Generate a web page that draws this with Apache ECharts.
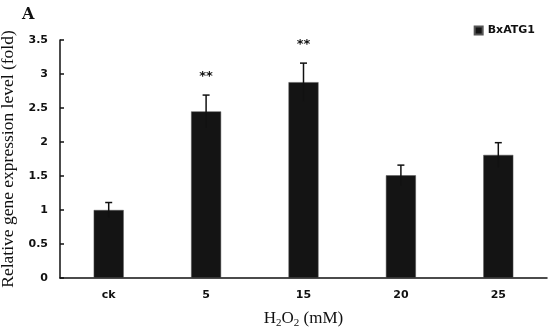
<!DOCTYPE html>
<html><head><meta charset="utf-8">
<script src="https://cdn.jsdelivr.net/npm/echarts@6/dist/echarts.min.js"></script>
<style>html,body{margin:0;padding:0;background:#fff}#c{width:550px;height:330px}</style>
</head><body><div id="c"></div>
<script>
const categories = ['ck', '5', '15', '20', '25'];
const values = [1.0, 2.45, 2.88, 1.51, 1.81];
const errors = [0.11, 0.24, 0.28, 0.15, 0.18];
const marks = ['', '**', '**', '', ''];
const yTicks = [0, 0.5, 1, 1.5, 2, 2.5, 3, 3.5];

const chart = echarts.init(document.getElementById('c'));
const errData = values.map((v, i) => [i, v - errors[i], v + errors[i], marks[i]]);
chart.setOption({
  animation: false,
  backgroundColor: '#fff',
  legend: {
    data: ['BxATG1'], right: 10, top: 20, itemWidth: 8, itemHeight: 8, itemGap: 6,
    icon: 'rect',
    textStyle: { fontFamily: 'DejaVu Sans', fontWeight: 'bold', fontSize: 11, color: '#111' }
  },
  title: [
    { text: 'A', left: 17, top: 2, textStyle: { fontFamily: 'DejaVu Serif', fontWeight: 'bold', fontSize: 16, color: '#111' } }
  ],
  grid: { left: 60, top: 40, width: 487, height: 238, outerBoundsMode: 'none', containLabel: false },
  xAxis: {
    type: 'category', data: categories,
    name: '{a|H}{s|2}{a|O}{s|2}{a| (mM)}', nameLocation: 'middle', nameGap: 31,
    nameTextStyle: { rich: {
      a: { fontFamily: 'Liberation Serif', fontSize: 17, color: '#111' },
      s: { fontFamily: 'Liberation Serif', fontSize: 11, color: '#111', padding: [9, 0, 0, 0] }
    } },
    axisLine: { lineStyle: { color: '#111', width: 1.5 } },
    axisTick: { inside: true, length: 5, lineStyle: { color: '#111', width: 1.5 } },
    axisLabel: { fontFamily: 'DejaVu Sans', fontWeight: 'bold', fontSize: 11, color: '#111', margin: 12 }
  },
  yAxis: {
    type: 'value', min: 0, max: 3.5, interval: 0.5,
    name: 'Relative gene expression level (fold)', nameLocation: 'middle', nameGap: 40,
    nameTextStyle: { fontFamily: 'Liberation Serif', fontSize: 17.5, color: '#111' },
    axisLine: { show: true, lineStyle: { color: '#111', width: 1.5 } },
    axisTick: { show: true, inside: true, length: 4, lineStyle: { color: '#111', width: 1.5 } },
    splitLine: { show: false },
    axisLabel: { fontFamily: 'DejaVu Sans', fontWeight: 'bold', fontSize: 11, color: '#111', margin: 12,
      formatter: v => yTicks.includes(v) ? String(v) : '' }
  },
  series: [
    { name: 'BxATG1', type: 'bar', data: values, barWidth: 30,
      itemStyle: { color: '#141414', borderColor: '#555', borderWidth: 0.5 } },
    { type: 'custom', data: errData, z: 10,
      renderItem: (params, api) => {
        const x = api.value(0);
        const lo = api.coord([x, api.value(1)]);
        const hi = api.coord([x, api.value(2)]);
        const w = 3.5;
        const st = { stroke: '#111', lineWidth: 1.5 };
        const children = [
          { type: 'line', shape: { x1: lo[0], y1: lo[1], x2: hi[0], y2: hi[1] }, style: st },
          { type: 'line', shape: { x1: hi[0] - w, y1: hi[1], x2: hi[0] + w, y2: hi[1] }, style: st }
        ];
        const m = marks[params.dataIndex];
        if (m) children.push({ type: 'text', x: hi[0], y: hi[1] - 18,
          style: { text: m, fill: '#111', font: 'bold 13px DejaVu Sans', align: 'center', verticalAlign: 'middle' } });
        return { type: 'group', children };
      }
    }
  ]
});
</script></body></html>
